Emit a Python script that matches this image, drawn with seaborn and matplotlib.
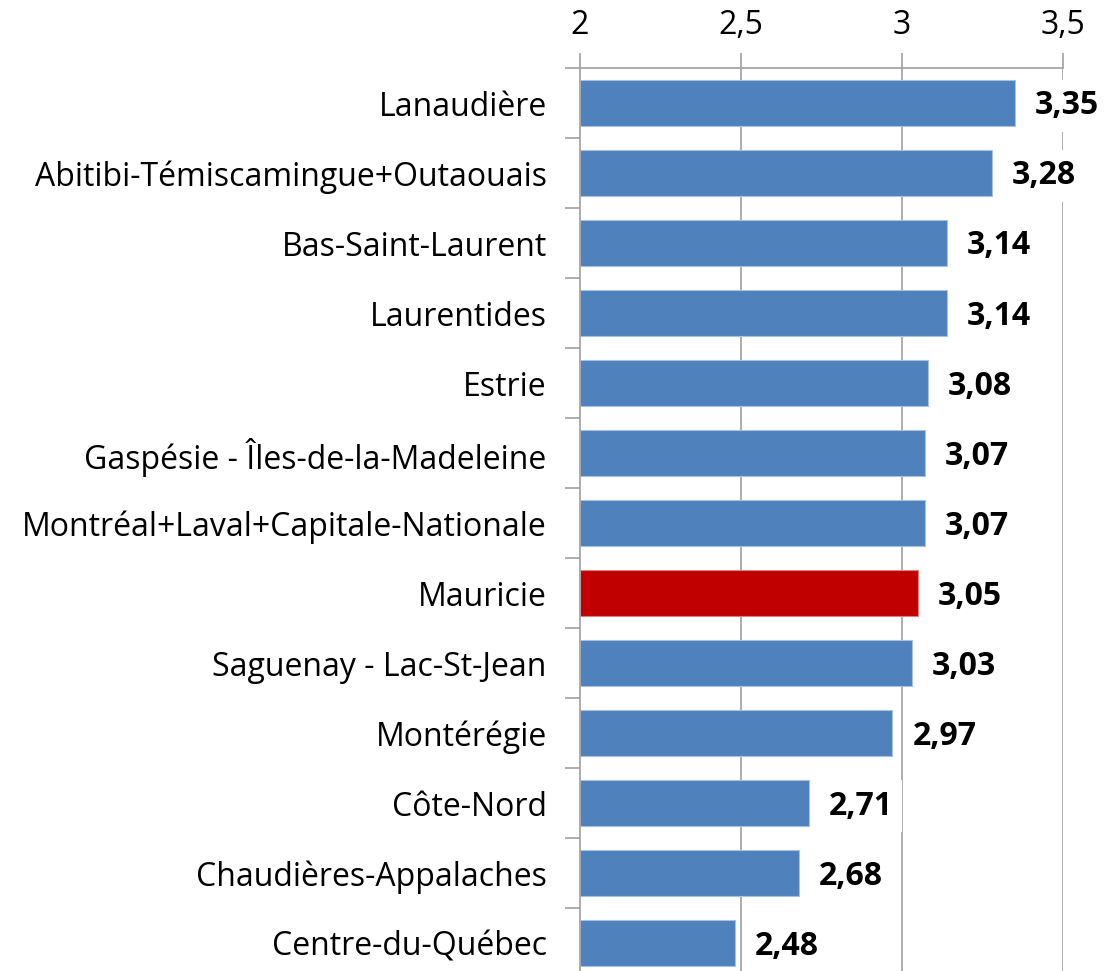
import matplotlib
matplotlib.use("Agg")
import matplotlib.pyplot as plt
import seaborn as sns
import pandas as pd
import numpy as np
from matplotlib.ticker import FixedLocator, FuncFormatter

regions = ["Lanaudière", "Abitibi-Témiscamingue+Outaouais", "Bas-Saint-Laurent",
           "Laurentides", "Estrie", "Gaspésie - Îles-de-la-Madeleine",
           "Montréal+Laval+Capitale-Nationale", "Mauricie", "Saguenay - Lac-St-Jean",
           "Montérégie", "Côte-Nord", "Chaudières-Appalaches", "Centre-du-Québec"]
values = [3.35, 3.28, 3.14, 3.14, 3.08, 3.07, 3.07, 3.05, 3.03, 2.97, 2.71, 2.68, 2.48]
highlight = "Mauricie"

BLUE = "#4F81BD"
RED = "#C00000"
GRAY = "#A0A0A0"
FS = 23

sns.set_theme(style="white")
plt.rcParams['font.family'] = ['Open Sans', 'DejaVu Sans']

df = pd.DataFrame({"region": regions, "value": values})
palette = {r: (RED if r == highlight else BLUE) for r in regions}

fig = plt.figure(figsize=(11.07, 9.71), dpi=100)
ax = fig.add_axes([580/1107, -7/971, (1063-580)/1107, (978-68)/971])

sns.barplot(data=df, x="value", y="region", hue="region", palette=palette,
            order=regions, hue_order=regions, legend=False, ax=ax, width=0.67,
            edgecolor="#A9C1E0", linewidth=0.8, saturation=1, orient="h")
# Bars start at 2 (axis min)
for p in ax.patches:
    x0 = p.get_x()
    w = p.get_width()
    p.set_x(2.0)
    p.set_width(x0 + w - 2.0)
for p, r in zip(ax.patches, regions):
    if r == highlight:
        p.set_edgecolor("#D9827F")

ax.set_xlim(2, 3.5)
ax.set_ylim(len(regions) - 0.5, -0.5)
ax.xaxis.tick_top()
ax.xaxis.set_label_position("top")
ax.set_xticks([2, 2.5, 3, 3.5])
ax.xaxis.set_major_formatter(FuncFormatter(lambda v, p: (f"{v:g}").replace(".", ",")))
ax.tick_params(axis="x", which="major", top=True, bottom=False, length=11, width=1.2,
               color=GRAY, pad=8, labelsize=FS, labelcolor="#000000")
ax.set_xlabel("")
ax.set_ylabel("")

ax.yaxis.set_minor_locator(FixedLocator(np.arange(-0.5, len(regions), 1)))
ax.tick_params(axis="y", which="major", left=False, length=0, pad=24, labelsize=FS,
               labelcolor="#000000")
ax.tick_params(axis="y", which="minor", left=True, length=11, width=1.2, color=GRAY)

for s in ["right", "bottom"]:
    ax.spines[s].set_visible(False)
for s in ["top", "left"]:
    ax.spines[s].set_color(GRAY)
    ax.spines[s].set_linewidth(1.2)

for xv in [2.5, 3, 3.5]:
    ax.axvline(xv, color=GRAY, lw=1.2, zorder=0)

for i, v in enumerate(values):
    ax.annotate(f"{v:.2f}".replace(".", ","), xy=(v, i), xytext=(20, -3),
                textcoords="offset pixels", ha="left", va="center",
                fontsize=FS, fontweight="bold", color="#000000",
                bbox=dict(boxstyle="square,pad=0.3", fc="white", ec="none"),
                annotation_clip=False, zorder=5)

fig.savefig("out.png", dpi=100)
